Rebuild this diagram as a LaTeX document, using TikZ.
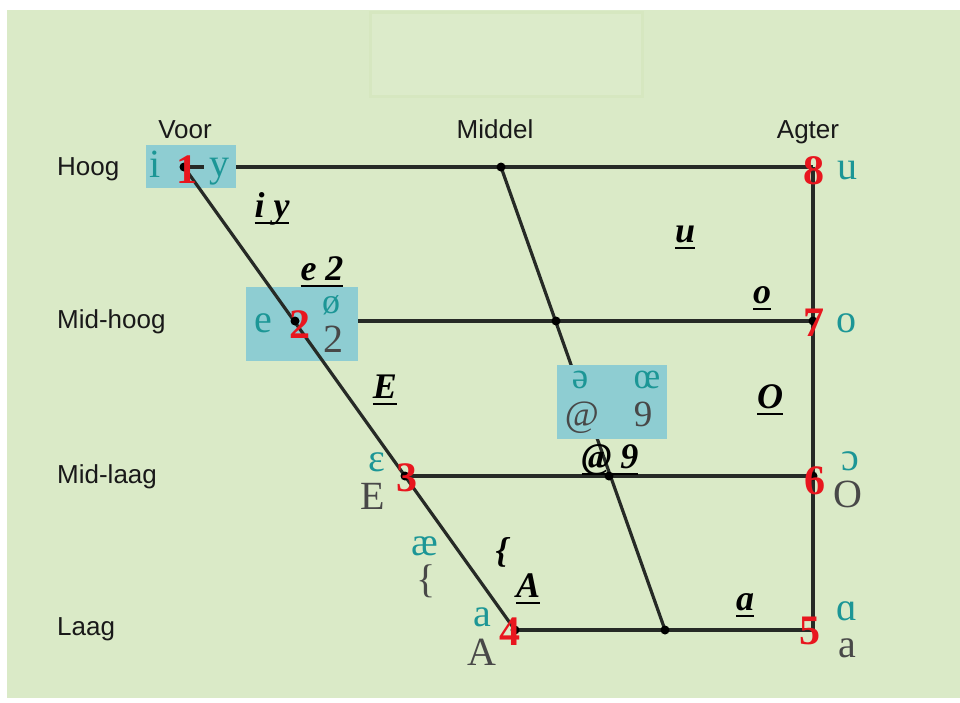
\documentclass[tikz,border=0pt]{standalone}
\usepackage{fontspec}
\setmainfont{Liberation Serif}
\newfontfamily\lsans{Liberation Sans}
\definecolor{bggreen}{RGB}{218,234,199}
\definecolor{faintfill}{RGB}{220,235,202}
\definecolor{faintedge}{RGB}{214,231,192}
\definecolor{boxc}{RGB}{142,205,210}
\definecolor{tealc}{RGB}{28,150,150}
\definecolor{greyc}{RGB}{72,72,72}
\definecolor{redn}{RGB}{232,22,30}
\definecolor{linec}{RGB}{38,42,38}
\newcommand{\myul}[1]{\sbox0{#1}\rlap{\rule[-7pt]{\wd0}{2.5pt}}\usebox0}
\begin{document}
\begin{tikzpicture}[x=1pt,y=-1pt,
  lbl/.style={font=\lsans\fontsize{26}{26}\selectfont, anchor=base, inner sep=0, text=black!90},
  ipa/.style={font=\fontsize{40}{40}\selectfont, text=tealc, anchor=base, inner sep=0},
  ipag/.style={ipa, text=greyc},
  ipas/.style={ipa, font=\fontsize{37}{37}\selectfont},
  ipasg/.style={ipas, text=greyc},
  num/.style={font=\bfseries\fontsize{42}{42}\selectfont, text=redn, anchor=base, inner sep=0},
  rg/.style={font=\bfseries\itshape\fontsize{36}{36}\selectfont, anchor=base, inner sep=0, text=black},
  dotn/.style={circle, fill=black, inner sep=0, minimum size=9pt},
  ln/.style={draw=linec, line width=3.2pt},
  boxn/.style={fill=boxc, draw=none, inner sep=0}]
\useasboundingbox (0,0) rectangle (960,702);
\fill[white] (0,0) rectangle (960,702);
\fill[bggreen] (7,10) rectangle (960,698);
\draw[faintedge, line width=3pt, fill=faintfill] (370,12) rectangle (642,96);

% point coordinates
\coordinate (p1) at (184,167);
\coordinate (p2) at (295,321);
\coordinate (p3) at (405,476);
\coordinate (p4) at (515,630);
\coordinate (p5) at (813,630);
\coordinate (p6) at (813,476);
\coordinate (p7) at (813,321);
\coordinate (p8) at (813,167);
\coordinate (m1) at (501,167);
\coordinate (m2) at (556,321);
\coordinate (m3) at (609,476);
\coordinate (m4) at (665,630);
\coordinate (yl) at (204,167);

% grid lines under boxes
\draw[ln] (p1) -- (p8);
\draw[ln] (p2) -- (p7);
\draw[ln] (p3) -- (p6);
\draw[ln] (p4) -- (p5);
\draw[ln] (p8) -- (p5);
\draw[ln] (m1) -- (m4);

% boxes
\node[boxn, minimum width=90pt, minimum height=43pt] (b1) at (191,166.5) {};
\node[boxn, minimum width=112pt, minimum height=74pt] (b2) at (302,324) {};
\node[boxn, minimum width=110pt, minimum height=74pt] (b3) at (612,402) {};

% lines above boxes
\draw[ln] (p1) -- (p4);
\draw[ln] (p1) -- (yl);

% dots
\foreach \p in {p1,p2,p3,p4,p6,p7,m1,m2,m3,m4}
  \node[dotn] (d\p) at (\p) {};

% axis labels
\node[lbl] (voor) at (185,138) {Voor};
\node[lbl] (middel) at (495,138) {Middel};
\node[lbl] (agter) at (808,138) {Agter};
\node[lbl, anchor=base west] (hoog) at (57,175) {Hoog};
\node[lbl, anchor=base west] (midhoog) at (57,328) {Mid-hoog};
\node[lbl, anchor=base west] (midlaag) at (57,483) {Mid-laag};
\node[lbl, anchor=base west] (laag) at (57,635) {Laag};

% IPA symbols
\node[ipa] (si) at (155,177) {i};
\node[ipa] (sy) at (219,176) {y};
\node[ipa] (su) at (847,179) {u};
\node[ipa] (se) at (263,332) {e};
\node[ipa, font=\fontsize{36}{36}\selectfont] (soe) at (331,313) {ø};
\node[ipag] (s2) at (333,352) {2};
\node[ipa] (so) at (846,332) {o};
\node[ipas] (sschwa) at (580,388) {ə};
\node[ipas] (soel) at (647,388) {œ};
\node[ipasg] (sat) at (582,426) {@};
\node[ipasg] (s9) at (643,426) {9};
\node[ipa] (seps) at (377,471) {ɛ};
\node[ipag] (sE) at (373,509) {E};
\node[ipa] (sopen) at (850,470) {ɔ};
\node[ipag] (sO) at (848,507) {O};
\node[ipa] (sae) at (425,555) {æ};
\node[ipag] (sbr) at (426,592) {\{};
\node[ipa] (sa) at (482,626) {a};
\node[ipag] (sA) at (482,665) {A};
\node[ipa] (salpha) at (847,620) {ɑ};
\node[ipag] (sa2) at (847,657) {a};

% red numbers
\node[num] (n1) at (187,183) {1};
\node[num] (n2) at (300,338) {2};
\node[num] (n3) at (407,491) {3};
\node[num] (n4) at (510,645) {4};
\node[num] (n5) at (810,644) {5};
\node[num] (n6) at (815,494) {6};
\node[num] (n7) at (814,336) {7};
\node[num] (n8) at (814,184) {8};

% SAMPA labels
\node[rg] (liy) at (272,217) {\myul{i y}};
\node[rg] (le2) at (322,280) {\myul{e 2}};
\node[rg] (lE) at (385,398) {\myul{E}};
\node[rg] (lat9) at (610,468) {\myul{@ 9}};
\node[rg] (lu) at (685,242) {\myul{u}};
\node[rg] (lo) at (762,303) {\myul{o}};
\node[rg] (lO) at (770,408) {\myul{O}};
\node[rg] (lbr) at (502,562) {\{};
\node[rg] (lA) at (528,597) {\myul{A}};
\node[rg] (la) at (745,610) {\myul{a}};
\end{tikzpicture}
\end{document}
